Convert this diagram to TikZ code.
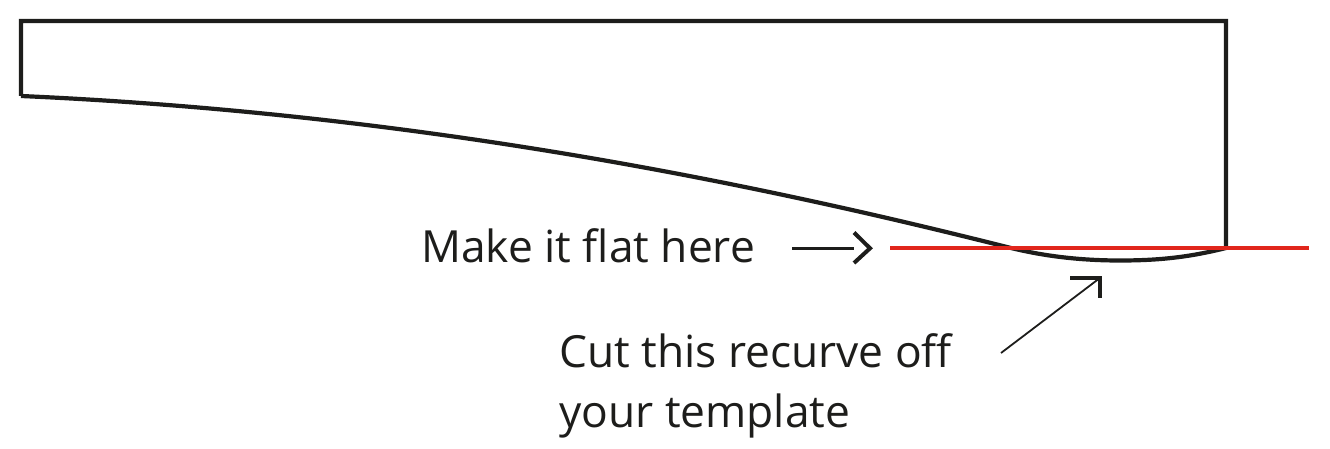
\documentclass[tikz,border=0pt]{standalone}
\usepackage{fontspec}
\setmainfont{Open Sans}
\definecolor{ink}{HTML}{1D1D1B}
\definecolor{redl}{HTML}{E1261C}
\tikzset{
 lbl/.style={font=\fontsize{44.3pt}{50pt}\selectfont, text=ink, inner sep=0pt, anchor=base west, align=left},
 outline/.style={draw=ink, line width=4.2pt, line join=miter},
 shaft/.style={draw=ink, line width=3.4pt},
 thinshaft/.style={draw=ink, line width=1.8pt},
 head/.style={draw=ink, line width=4pt, line join=miter},
}
\begin{document}
\begin{tikzpicture}[x=1pt,y=-1pt]
\useasboundingbox (0,0) rectangle (1330,449);
\coordinate (tl) at (21,21);
\coordinate (tr) at (1226,21);
\coordinate (rb) at (1226,248);
\coordinate (lb) at (21,96);
\draw[outline] (lb) -- (tl) -- (tr) -- (rb)
  .. controls (1190,257) and (1160,260.5) .. (1120,260.5)
  .. controls (1075,260.5) and (1040,255) .. (1011,248)
  .. controls (800,195) and (450,115) .. (lb);
\coordinate (r1) at (890,248);
\coordinate (r2) at (1309,248);
\draw[draw=redl,line width=3.8pt] (r1) -- (r2);
\node[lbl] (flat) at (421,262) {Make it flat here};
\coordinate (a1) at (792,248.3);
\coordinate (a2) at (870,248.3);
\draw[shaft] (a1) -- (854,248.3);
\draw[head] (854,232.5) -- (a2) -- (854,263);
\node[lbl] (cut) at (559,367) {Cut this recurve off};
\node[lbl] (tmpl) at (559,427) {your template};
\coordinate (b1) at (1001,353);
\coordinate (b2) at (1099.5,278.3);
\draw[thinshaft] (b1) -- (b2);
\draw[head] (1070,278.3) -- (b2) -- (1099.5,298);
\end{tikzpicture}
\end{document}
